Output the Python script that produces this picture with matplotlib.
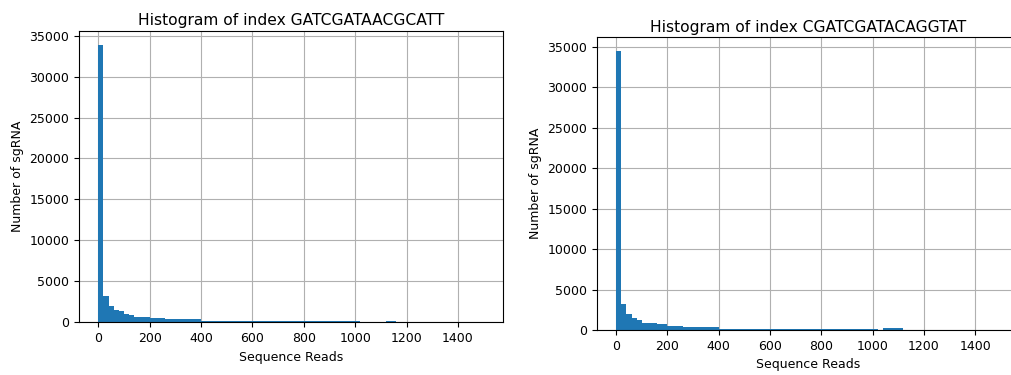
import numpy as np
import matplotlib.pyplot as plt

# bin edges shared by both histograms (width 20 reads, 0-1500)
bin_edges = np.arange(0, 1501, 20)

# sgRNA counts per bin, index GATCGATAACGCATT
counts_left = (
    [33900, 3170, 1990, 1540, 1340, 1055, 850]
    + [690] * 3
    + [490] * 3
    + [365] * 7
    + [160] * 31
    + [0] * 5
    + [200] * 2
    + [0] * 17
)

# sgRNA counts per bin, index CGATCGATACAGGTAT
counts_right = (
    [34440, 3180, 2020, 1530, 1200]
    + [910] * 3
    + [700] * 2
    + [500] * 3
    + [330] * 7
    + [125] * 31
    + [0] * 1
    + [200] * 4
    + [0] * 19
)

titles = ['Histogram of index GATCGATAACGCATT', 'Histogram of index CGATCGATACAGGTAT']

fig = plt.figure(figsize=(10.11, 3.75), dpi=100)
ax1 = fig.add_axes([0.0781, 0.1405, 0.4194, 0.7775])
ax2 = fig.add_axes([0.5905, 0.1200, 0.4184, 0.7805])

for ax, counts, title in zip([ax1, ax2], [counts_left, counts_right], titles):
    ax.hist(bin_edges[:-1], bins=bin_edges, weights=counts, color='#1f77b4')
    ax.grid(True, color='#b0b0b0', linewidth=0.8)
    ax.set_axisbelow(True)
    ax.set_title(title, fontsize=11.2, pad=4)
    ax.set_xlabel('Sequence Reads', fontsize=9)
    ax.set_ylabel('Number of sgRNA', fontsize=9)
    ax.tick_params(labelsize=9)

fig.savefig('out.png', dpi=100)
